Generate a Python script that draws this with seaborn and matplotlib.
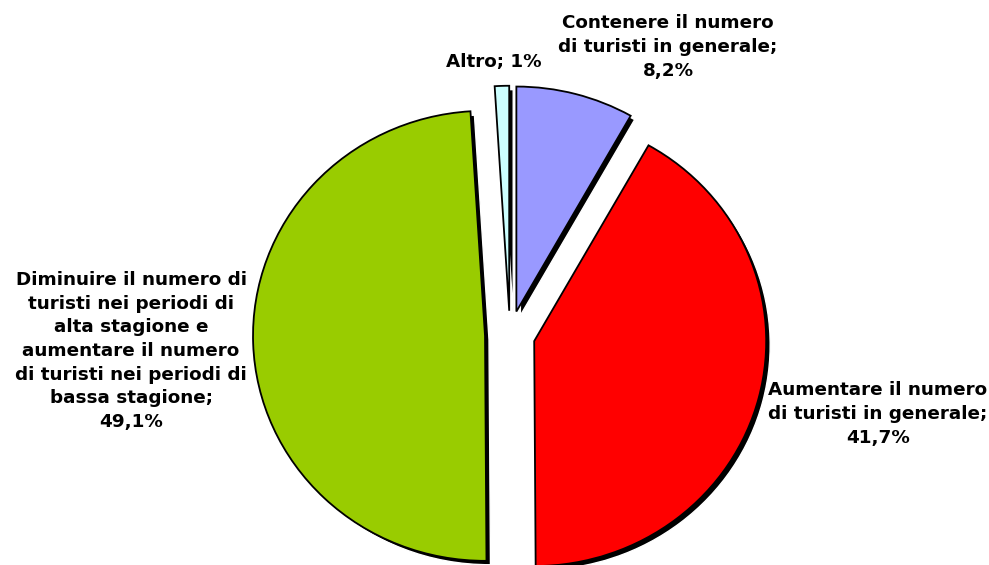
import matplotlib
matplotlib.use("Agg")
import matplotlib.pyplot as plt
import seaborn as sns

# ============================================================
# Data
# ============================================================

categorie = [
    "Contenere il numero\ndi turisti in generale",
    "Aumentare il numero\ndi turisti in generale",
    "Diminuire il numero di\nturisti nei periodi di\nalta stagione e\naumentare il numero\ndi turisti nei periodi di\nbassa stagione",
    "Altro",
]
valori = [8.2, 41.7, 49.1, 1.0]
etichette_pct = ["8,2%", "41,7%", "49,1%", "1%"]
colori = ["#9999FF", "#FF0000", "#99CC00", "#CCFFFF"]

# ============================================================
# Figure
# ============================================================

sns.set_theme(style="white")
plt.rcParams["font.family"] = ["DejaVu Sans"]

W, H = 989, 565
sy = 225 / 232          # pie is slightly squashed vertically
fig = plt.figure(figsize=(W / 100, H / 100), dpi=100)
ax = fig.add_axes([0, 0, 1, 1])


def ypix(y):
    # screen pixel row -> data y
    return (H - y) / sy


centro = (510, ypix(335))
raggio = 232
esplodi = [25] * len(valori)

# shadow
ax.pie(valori, center=(centro[0] + 4, centro[1] - 4), radius=raggio,
       explode=esplodi, startangle=90, counterclock=False,
       colors=["black"] * len(valori), frame=True)

# slices
ax.pie(valori, center=centro, radius=raggio, explode=esplodi,
       startangle=90, counterclock=False, colors=colori, frame=True,
       wedgeprops=dict(edgecolor="black", linewidth=1.3))

ax.set_xlim(0, W)
ax.set_ylim(0, H / sy)
ax.set_aspect("auto")
ax.axis("off")

# ============================================================
# Labels
# ============================================================

posizioni = [(668, 47), (878, 414), (131, 351), (494, 62)]
for cat, pct, (x, y) in zip(categorie, etichette_pct, posizioni):
    if cat == "Altro":
        testo = cat + "; " + pct
    else:
        testo = cat + ";\n" + pct
    ax.text(x, ypix(y), testo, ha="center", va="center", fontsize=13.2,
            fontweight="bold", color="black", linespacing=1.4)

fig.savefig("out.png", dpi=100, facecolor="white")
